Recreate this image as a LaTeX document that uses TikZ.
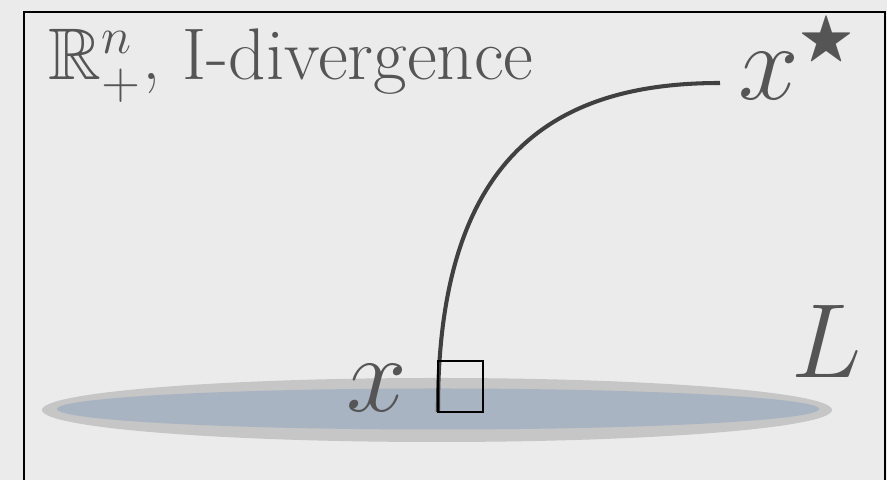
\RequirePackage{fix-cm}
\documentclass[tikz,border=0pt]{standalone}
\usepackage{amssymb}
\usetikzlibrary{positioning}
\definecolor{paper}{HTML}{EBEBEB}
\definecolor{inkgray}{HTML}{555555}
\definecolor{curvegray}{HTML}{404040}
\definecolor{rimgray}{HTML}{C6C6C6}
\definecolor{setblue}{HTML}{A9B4C3}

\begin{document}
\begin{tikzpicture}[
        x=0.01cm, y=-0.01cm,
        lbl/.style={text=inkgray, inner sep=0pt, font=\fontsize{31}{36}\selectfont},
        heading/.style={text=inkgray, inner sep=0pt, font=\fontsize{20.8}{25}\selectfont},
        geodesic/.style={draw=curvegray, line width=1.15pt},
        frame/.style={draw=black, line width=0.6pt}
        ]

        \useasboundingbox (0,0) rectangle (887,480);
        \clip (0,0) rectangle (887,480);
        \fill[paper] (0,0) rectangle (887,480);
        \draw[frame] (24,500) -- (24,12) -- (885,12) -- (885,500);

        % the set L
        \fill[rimgray] (437,410) ellipse [x radius=395, y radius=32];
        \fill[setblue] (438,409) ellipse [x radius=381, y radius=20.5];

        \node[heading, anchor=base west] (space) at (48,80) {$\mathbb{R}^{n}_{+}$,\ I-divergence};

        \coordinate (foot) at (438,412);
        \coordinate (start) at (720,83);
        \draw[geodesic] (foot) .. controls (437,150) and (560,83) .. (start);
        \draw[line width=0.6pt] (foot) rectangle (483,361);

        \node[lbl, anchor=base west] (xstar) at (738,100) {$x^{\raisebox{1.5pt}{\scalebox{0.75}{$\scriptstyle\bigstar$}}}$};
        \node[lbl, anchor=base east] (xproj) at (408,412) {$x$};
        \node[lbl, anchor=base east, font=\fontsize{30}{36}\selectfont] (setL) at (862,378) {$L$};

    \end{tikzpicture}
\end{document}
